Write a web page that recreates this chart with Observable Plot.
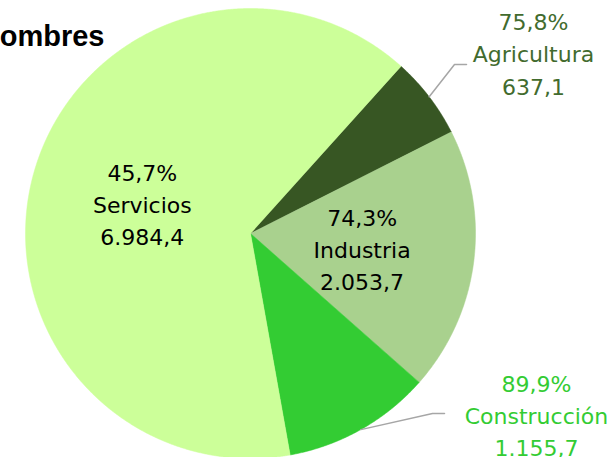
<!DOCTYPE html>
<html>
<head>
<meta charset="utf-8">
<script src="https://cdn.jsdelivr.net/npm/d3@7"></script>
<script src="https://cdn.jsdelivr.net/npm/@observablehq/plot@0.6"></script>
<style>
  html, body { margin: 0; padding: 0; background: #fff; overflow: hidden; }
  #chart svg { display: block; }
</style>
</head>
<body>
<div id="chart"></div>
<script>
// ---- Data ----
const title = "Hombres";
const sectors = ["Agricultura", "Industria", "Construcción", "Servicios"];
const values = [637.1, 2053.7, 1155.7, 6984.4];           // miles
const shareMen = ["75,8%", "74,3%", "89,9%", "45,7%"];      // % hombres
const valueLabels = ["637,1", "2.053,7", "1.155,7", "6.984,4"];
const colors = ["#375623", "#A9D18E", "#33CC33", "#CCFF99"];
const labelColors = ["#426B2E", "#000000", "#33CC33", "#000000"];

// ---- Layout options ----
const W = 610, H = 457;
const R = 225;                 // pie radius in data units (= px)
const startAngle = 42;         // degrees clockwise from 12 o'clock
const insideR = 0.5;           // inside labels at half radius
// outside labels: label centre and leader elbow/end in data units
const outside = {
  "Agricultura":  {label: [283, 181.5], elbow: [204, 169], end: [216, 169]},
  "Construcción": {label: [286, -180], elbow: [182, -180], end: [194, -180]}
};

const total = d3.sum(values);
const rad = (deg) => deg * Math.PI / 180;
const pt = (deg, r) => [r * Math.sin(rad(deg)), r * Math.cos(rad(deg))];

// slices
let a = startAngle;
const slices = sectors.map((s, i) => {
  const span = values[i] / total * 360;
  const o = {sector: s, a0: a, a1: a + span, mid: a + span / 2, i};
  a += span;
  return o;
});

// polygon vertices for each slice
const poly = [];
for (const sl of slices) {
  poly.push({sector: sl.sector, x: 0, y: 0});
  const n = Math.max(2, Math.ceil((sl.a1 - sl.a0) / 0.25));
  for (let k = 0; k <= n; k++) {
    const [x, y] = pt(sl.a0 + (sl.a1 - sl.a0) * k / n, R);
    poly.push({sector: sl.sector, x, y});
  }
  poly.push({sector: sl.sector, x: 0, y: 0});
}

// labels
const labels = slices.map(sl => {
  const i = sl.i;
  const o = outside[sl.sector];
  const [x, y] = o ? o.label : pt(sl.mid, R * insideR);
  return {x, y, text: `${shareMen[i]}\n${sectors[i]}\n${valueLabels[i]}`, color: labelColors[i]};
});

// leader lines
const leaders = [];
for (const sl of slices) {
  const o = outside[sl.sector];
  if (!o) continue;
  const [x0, y0] = pt(sl.mid, R);
  leaders.push({sector: sl.sector, x: x0, y: y0});
  leaders.push({sector: sl.sector, x: o.elbow[0], y: o.elbow[1]});
  leaders.push({sector: sl.sector, x: o.end[0], y: o.end[1]});
}

const chart = Plot.plot({
  width: W,
  height: H,
  margin: 0,
  style: {background: "#fff", overflow: "hidden"},
  x: {domain: [-250, 360], axis: null},
  y: {domain: [-224, 233], axis: null},
  color: {domain: sectors, range: colors},
  marks: [
    Plot.line(poly, {x: "x", y: "y", z: "sector", fill: "sector", stroke: "sector", strokeWidth: 0.5, curve: "linear-closed"}),
    Plot.line(leaders, {x: "x", y: "y", z: "sector", stroke: "#A6A6A6", strokeWidth: 1.5, curve: "linear"}),
    Plot.text(labels, {x: "x", y: "y", text: "text", fill: "color",
      fontSize: 22, lineHeight: 1.47, fontFamily: "DejaVu Sans", textAnchor: "middle"}),
    Plot.text([title], {x: () => -146, y: () => 196.3, text: d => d, textAnchor: "end",
      fontSize: 29, fontWeight: "bold", fontFamily: "Liberation Sans", fill: "#000"})
  ]
});
document.getElementById("chart").append(chart);
</script>
</body>
</html>
